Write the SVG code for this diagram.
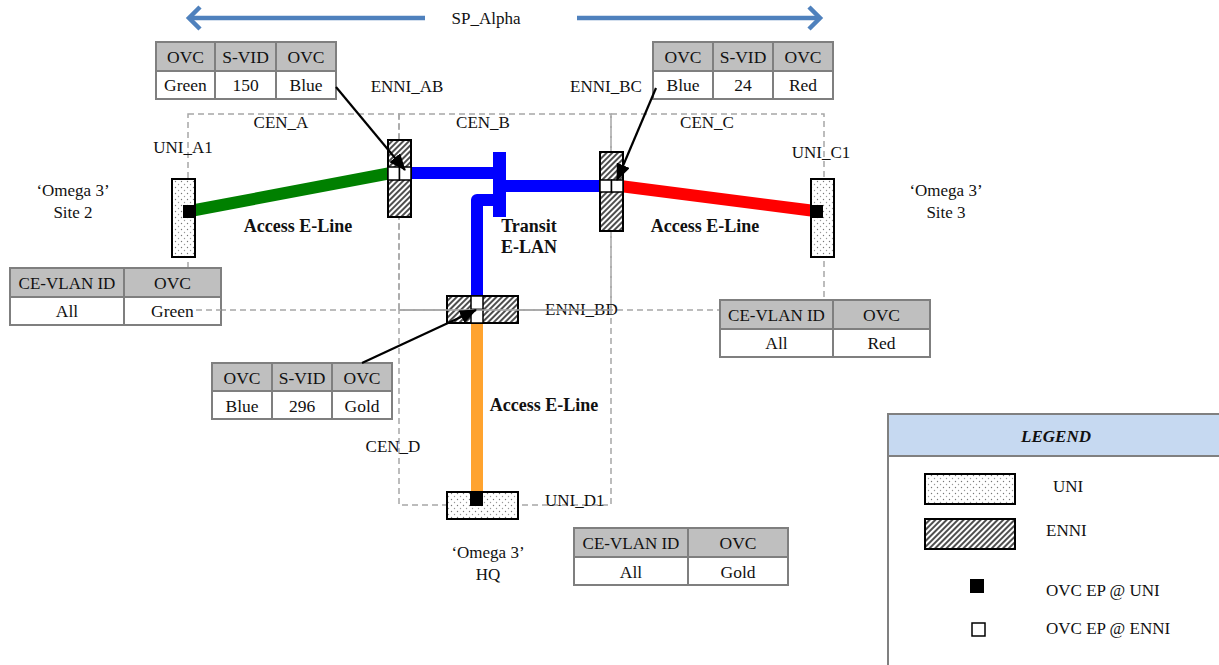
<svg xmlns="http://www.w3.org/2000/svg" width="1219" height="665" viewBox="0 0 1219 665">
<style>
text{font-family:"Liberation Serif","DejaVu Serif",serif;font-size:17px;fill:#111}
.c{text-anchor:middle}
.b{font-weight:bold;font-size:18px}
.th{fill:#BFBFBF;stroke:#7F7F7F;stroke-width:2}
.td{fill:#fff;stroke:#7F7F7F;stroke-width:2}
.tt{font-size:17.5px}
.cen{fill:none;stroke:#A6A6A6;stroke-width:1.5;stroke-dasharray:6 4}
.uni{fill:url(#dots);stroke:#000;stroke-width:2}
.enni{fill:url(#hatch);stroke:#000;stroke-width:2}
.ep{fill:#fff;stroke:#000;stroke-width:1.5}
.epu{fill:#000}
.sp{stroke:#4F81BD;stroke-width:4.5;fill:none}
.ptr{stroke:#000;stroke-width:2.2;fill:none}
</style>
<defs>
<pattern id="dots" width="6" height="6" patternUnits="userSpaceOnUse">
<rect width="6" height="6" fill="#fff"/>
<circle cx="1.5" cy="1.5" r="0.7" fill="#777"/>
<circle cx="4.5" cy="4.5" r="0.7" fill="#999"/>
</pattern>
<pattern id="hatch" width="4" height="4" patternUnits="userSpaceOnUse" patternTransform="rotate(45)">
<rect width="4" height="4" fill="#fff"/>
<line x1="1" y1="0" x2="1" y2="4" stroke="#222" stroke-width="1.6"/>
</pattern>
<marker id="ah" markerWidth="17" markerHeight="14" refX="16" refY="7" orient="auto" markerUnits="userSpaceOnUse">
<path d="M0,0 L17,7 L0,14 Z" fill="#000"/>
</marker>
</defs>

<!-- CEN boundaries -->
<g id="cens">
<rect class="cen" x="188" y="114" width="211" height="196"/>
<rect class="cen" x="399" y="114" width="212" height="196"/>
<rect class="cen" x="611" y="114" width="213" height="196"/>
<rect class="cen" x="399" y="310" width="212" height="195"/>
<text class="c" x="281" y="128">CEN_A</text>
<text class="c" x="483" y="128">CEN_B</text>
<text class="c" x="707" y="128">CEN_C</text>
<text class="c" x="393" y="452">CEN_D</text>
</g>

<!-- SP_Alpha -->
<g id="sp-alpha">
<line class="sp" x1="189" y1="18" x2="425" y2="18"/>
<polyline class="sp" points="200,7 189,18 200,29"/>
<line class="sp" x1="577" y1="18" x2="820" y2="18"/>
<polyline class="sp" points="809,7 820,18 809,29"/>
<text class="c" x="486" y="24">SP_Alpha</text>
</g>

<!-- Tables -->
<g id="tbl-ab" class="tt">
<rect class="th" x="156" y="42" width="59" height="29"/><rect class="th" x="215" y="42" width="61" height="29"/><rect class="th" x="276" y="42" width="60" height="29"/>
<rect class="td" x="156" y="71" width="59" height="28"/><rect class="td" x="215" y="71" width="61" height="28"/><rect class="td" x="276" y="71" width="60" height="28"/>
<text class="c tt" x="185.5" y="63">OVC</text><text class="c tt" x="245.5" y="63">S-VID</text><text class="c tt" x="306" y="63">OVC</text>
<text class="c tt" x="185.5" y="91">Green</text><text class="c tt" x="245.5" y="91">150</text><text class="c tt" x="306" y="91">Blue</text>
</g>
<g id="tbl-bc">
<rect class="th" x="653" y="42" width="60" height="29"/><rect class="th" x="713" y="42" width="60" height="29"/><rect class="th" x="773" y="42" width="60" height="29"/>
<rect class="td" x="653" y="71" width="60" height="28"/><rect class="td" x="713" y="71" width="60" height="28"/><rect class="td" x="773" y="71" width="60" height="28"/>
<text class="c tt" x="683" y="63">OVC</text><text class="c tt" x="743" y="63">S-VID</text><text class="c tt" x="803" y="63">OVC</text>
<text class="c tt" x="683" y="91">Blue</text><text class="c tt" x="743" y="91">24</text><text class="c tt" x="803" y="91">Red</text>
</g>
<g id="tbl-a1">
<rect class="th" x="10" y="268" width="114" height="29"/><rect class="th" x="124" y="268" width="97" height="29"/>
<rect class="td" x="10" y="297" width="114" height="28"/><rect class="td" x="124" y="297" width="97" height="28"/>
<text class="c" x="67" y="289">CE-VLAN ID</text><text class="c tt" x="172.5" y="289">OVC</text>
<text class="c tt" x="67" y="317">All</text><text class="c tt" x="172.5" y="317">Green</text>
<line class="cen" x1="196" y1="310" x2="221" y2="310"/>
</g>
<g id="tbl-c1">
<rect class="th" x="720" y="300" width="113" height="29"/><rect class="th" x="833" y="300" width="97" height="29"/>
<rect class="td" x="720" y="329" width="113" height="28"/><rect class="td" x="833" y="329" width="97" height="28"/>
<text class="c" x="776.5" y="321">CE-VLAN ID</text><text class="c tt" x="881.5" y="321">OVC</text>
<text class="c tt" x="776.5" y="349">All</text><text class="c tt" x="881.5" y="349">Red</text>
</g>
<g id="tbl-bd">
<rect class="th" x="212" y="363" width="60" height="28"/><rect class="th" x="272" y="363" width="60" height="28"/><rect class="th" x="332" y="363" width="60" height="28"/>
<rect class="td" x="212" y="391" width="60" height="28"/><rect class="td" x="272" y="391" width="60" height="28"/><rect class="td" x="332" y="391" width="60" height="28"/>
<text class="c tt" x="242" y="384">OVC</text><text class="c tt" x="302" y="384">S-VID</text><text class="c tt" x="362" y="384">OVC</text>
<text class="c tt" x="242" y="412">Blue</text><text class="c tt" x="302" y="412">296</text><text class="c tt" x="362" y="412">Gold</text>
</g>
<g id="tbl-d1">
<rect class="th" x="574" y="528" width="114" height="29"/><rect class="th" x="688" y="528" width="100" height="29"/>
<rect class="td" x="574" y="557" width="114" height="28"/><rect class="td" x="688" y="557" width="100" height="28"/>
<text class="c" x="631" y="549">CE-VLAN ID</text><text class="c tt" x="738" y="549">OVC</text>
<text class="c tt" x="631" y="578">All</text><text class="c tt" x="738" y="578">Gold</text>
</g>

<!-- Connectors (OVC paths) -->
<g id="connectors">
<line x1="190" y1="211" x2="391" y2="173" stroke="#008000" stroke-width="12"/>
<line x1="620" y1="186" x2="815" y2="211" stroke="#FF0000" stroke-width="12"/>
<rect x="409" y="167" width="91" height="12" fill="#0000FF"/>
<rect x="500" y="180" width="102" height="12" fill="#0000FF"/>
<rect x="493" y="152" width="13" height="65" fill="#0000FF"/>
<path d="M477,298 V200 H494" stroke="#0000FF" stroke-width="12" fill="none" stroke-linejoin="round"/>
<rect x="471" y="322" width="12" height="171" fill="#FFA32F"/>
</g>

<!-- Nodes -->
<g id="uni-a1">
<rect class="uni" x="172" y="179" width="23" height="78"/>
<rect class="epu" x="183" y="205" width="12" height="13"/>
<text class="c" x="183" y="153">UNI_A1</text>
</g>
<g id="site2">
<text class="c" x="73" y="196">‘Omega 3’</text>
<text class="c" x="73" y="218">Site 2</text>
</g>
<g id="enni-ab">
<rect class="enni" x="388" y="140" width="23" height="77"/>
<rect class="ep" x="388" y="167" width="11.5" height="13"/>
<rect class="ep" x="399.5" y="167" width="11.5" height="13"/>
<text class="c" x="407" y="92">ENNI_AB</text>
</g>
<g id="enni-bc">
<rect class="enni" x="600" y="152" width="23" height="79"/>
<rect class="ep" x="600" y="180" width="11.5" height="12"/>
<rect class="ep" x="611.5" y="180" width="11.5" height="12"/>
<text class="c" x="606" y="92">ENNI_BC</text>
</g>
<g id="uni-c1">
<rect class="uni" x="811" y="179" width="23" height="78"/>
<rect class="epu" x="811" y="205" width="12" height="13"/>
<text class="c" x="821" y="158">UNI_C1</text>
</g>
<g id="site3">
<text class="c" x="946" y="196">‘Omega 3’</text>
<text class="c" x="946" y="218">Site 3</text>
</g>
<g id="enni-bd">
<rect class="enni" x="447" y="296" width="71" height="27"/>
<rect class="ep" x="471" y="296" width="12" height="13.5"/>
<rect class="ep" x="471" y="309.5" width="12" height="13.5"/>
<text x="545" y="315">ENNI_BD</text>
<line x1="399" y1="310" x2="611" y2="310" stroke="#A6A6A6" stroke-width="1.5"/>
</g>
<g id="uni-d1">
<rect class="uni" x="447" y="492" width="71" height="27"/>
<rect class="epu" x="470" y="492" width="13" height="14"/>
<text x="545" y="506">UNI_D1</text>
</g>
<g id="hq">
<text class="c" x="488" y="558">‘Omega 3’</text>
<text class="c" x="488" y="580">HQ</text>
</g>

<!-- Pointer connectors from tables to ENNI endpoints -->
<g id="pointers">
<line class="ptr" x1="336" y1="87" x2="405" y2="170" marker-end="url(#ah)"/>
<line class="ptr" x1="656" y1="88" x2="617" y2="180" marker-end="url(#ah)"/>
<line class="ptr" x1="362" y1="363" x2="476" y2="310" marker-end="url(#ah)"/>
</g>

<!-- Service labels -->
<g id="labels">
<text class="c b" x="298" y="232">Access E-Line</text>
<text class="c b" x="705" y="232">Access E-Line</text>
<text class="c b" x="544" y="411">Access E-Line</text>
<text class="c b" x="529" y="232">Transit</text>
<text class="c b" x="529" y="253">E-LAN</text>
</g>

<!-- Legend -->
<g id="legend">
<rect x="888" y="414" width="340" height="260" fill="#fff" stroke="#808080" stroke-width="2"/>
<rect x="888" y="414" width="340" height="42" fill="#C6D9F1" stroke="#808080" stroke-width="2"/>
<text class="c" x="1056" y="442" font-weight="bold" font-style="italic">LEGEND</text>
<rect class="uni" x="925" y="474" width="90" height="30"/>
<text x="1053" y="492">UNI</text>
<rect class="enni" x="925" y="519" width="90" height="30"/>
<text x="1046" y="536">ENNI</text>
<rect class="epu" x="970" y="579" width="14" height="14"/>
<text x="1046" y="596">OVC EP @ UNI</text>
<rect class="ep" x="972" y="623" width="13" height="13"/>
<text x="1046" y="634">OVC EP @ ENNI</text>
</g>
</svg>
